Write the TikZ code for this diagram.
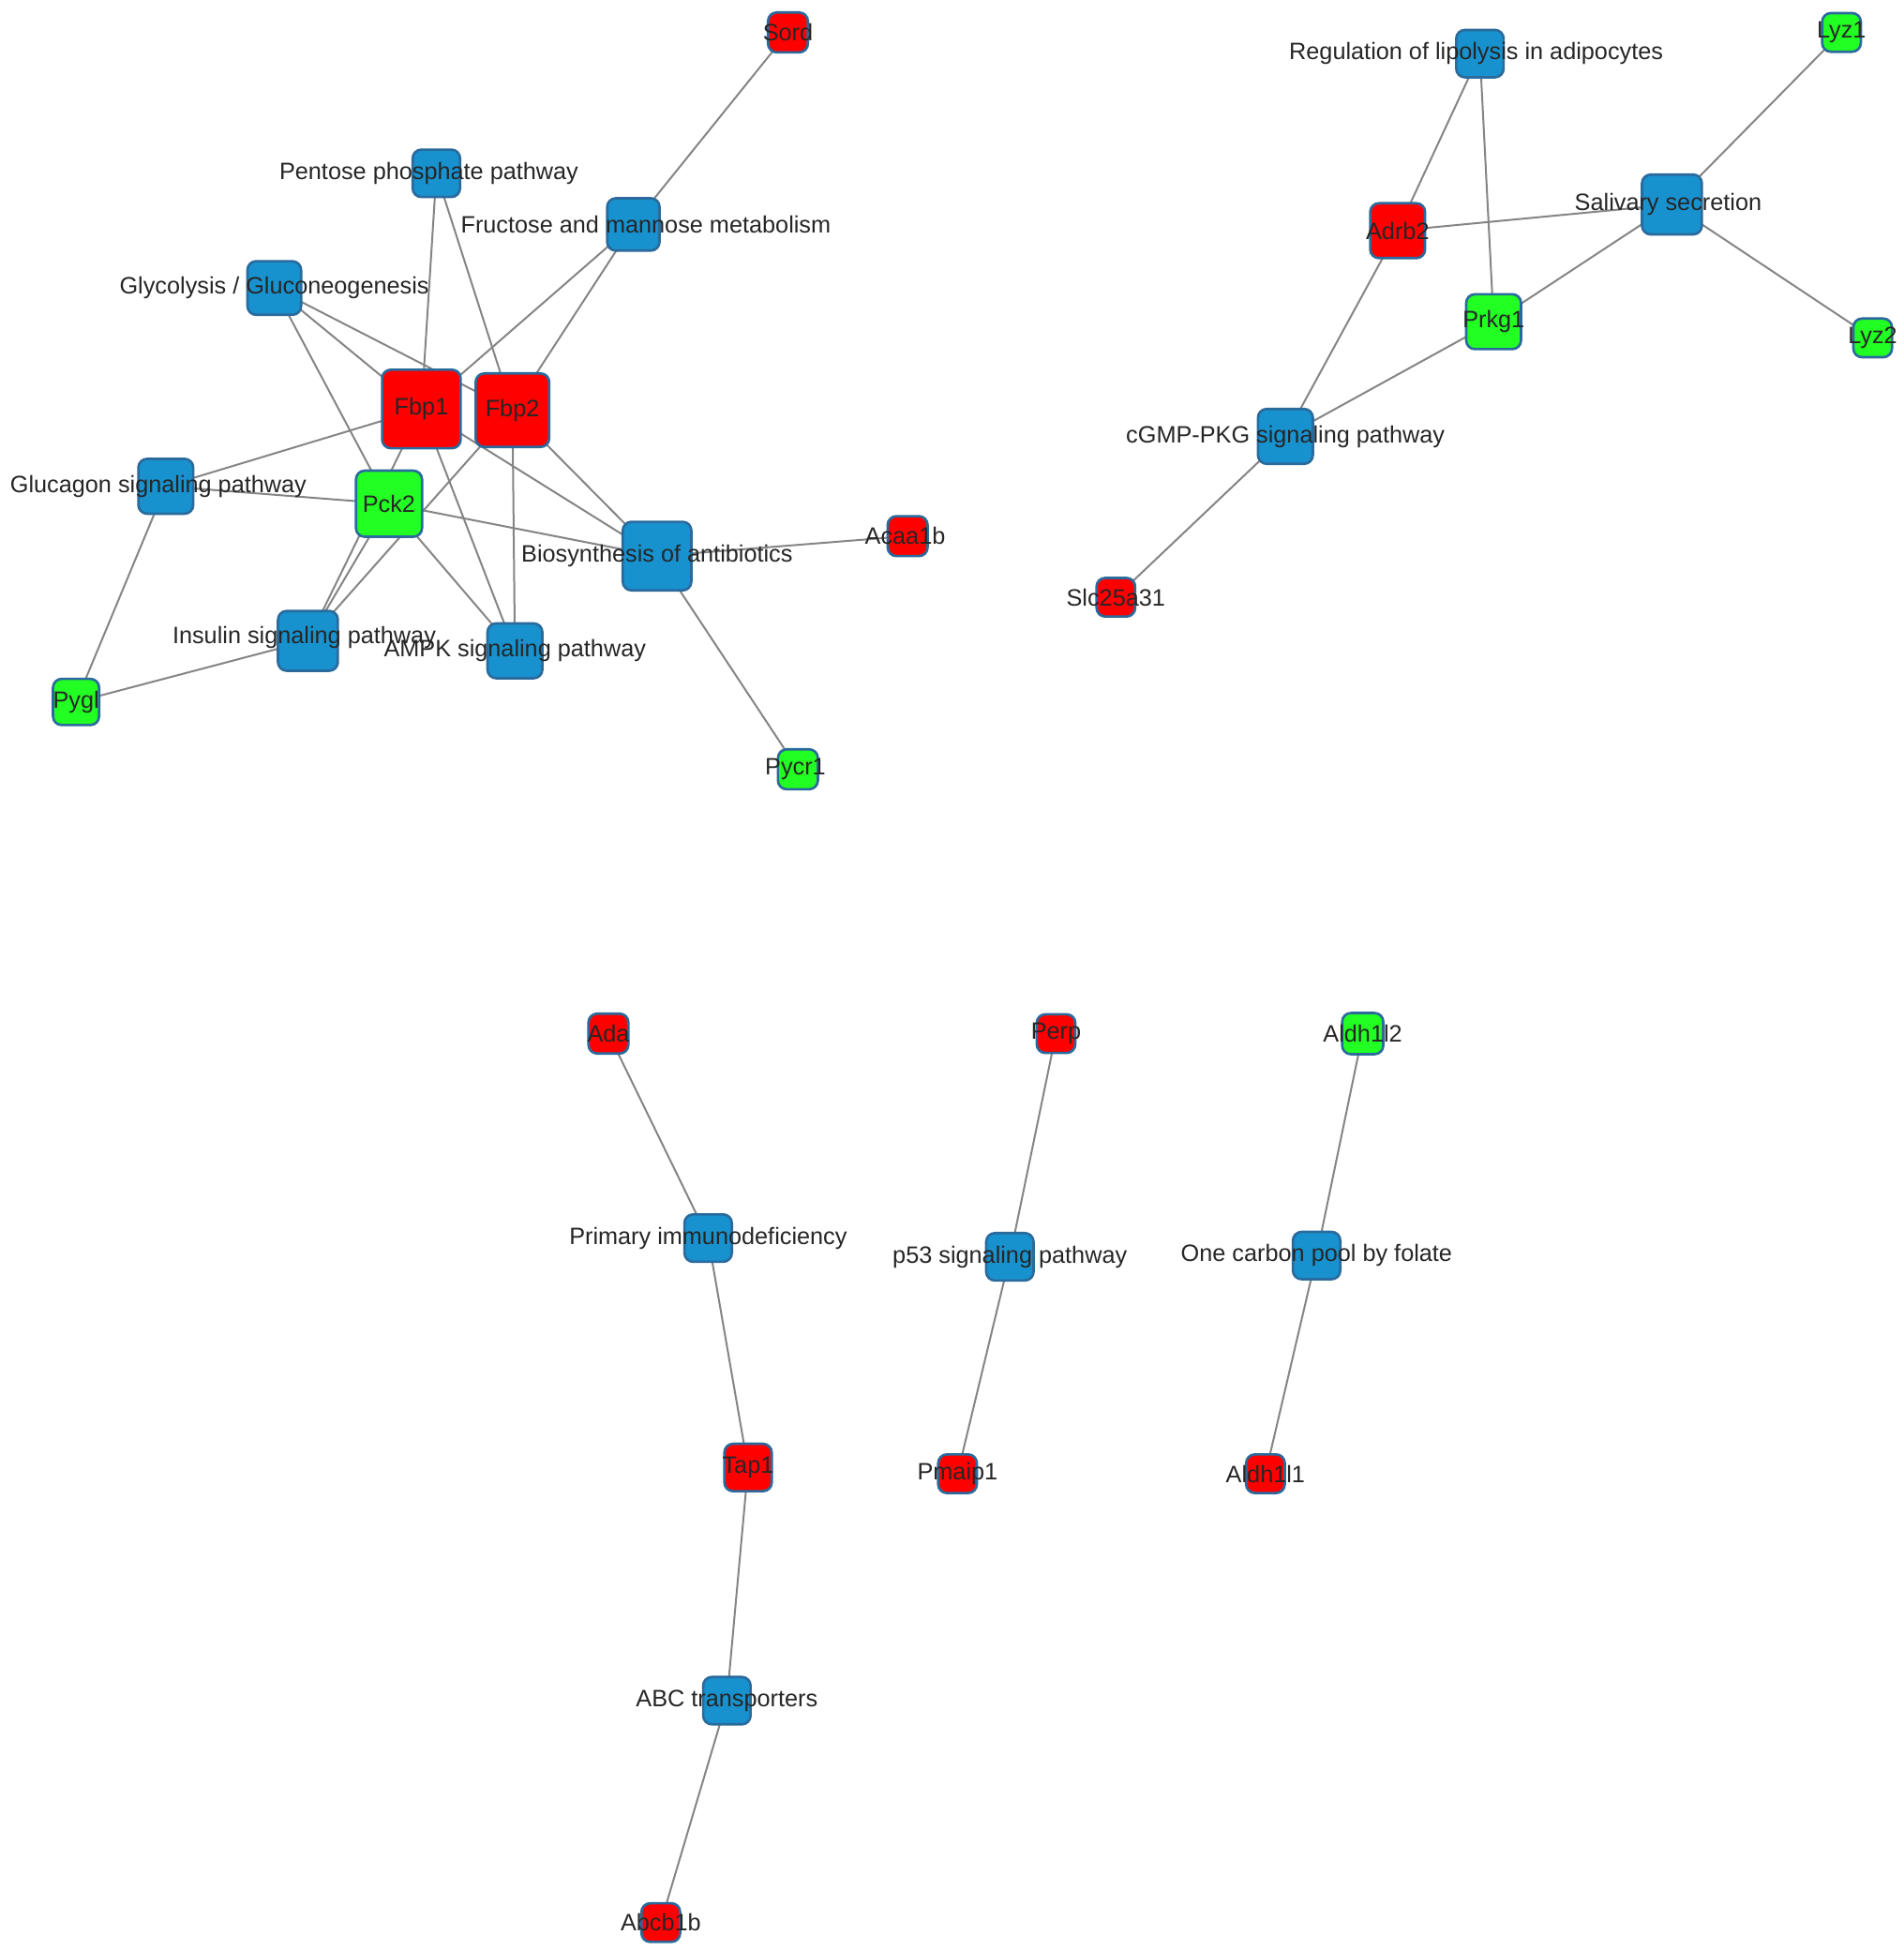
\documentclass[tikz,border=0pt]{standalone}
\usepackage{fontspec}
\setmainfont{Liberation Sans}
\usetikzlibrary{backgrounds}
\pgfdeclarelayer{bottom}
\pgfdeclarelayer{background}
\pgfsetlayers{bottom,background,main}
\definecolor{nblue}{HTML}{1792CF}
\definecolor{nred}{HTML}{FF0000}
\definecolor{ngreen}{HTML}{22FF22}
\definecolor{nborder}{HTML}{2A6A9C}
\definecolor{edgec}{HTML}{858585}
\definecolor{txt}{HTML}{262626}
\tikzset{
  box/.style={draw=nborder, line width=2pt, rounded corners=7pt, inner sep=0pt, minimum size=#1},
  pbox/.style={box=#1, fill=nblue},
  rbox/.style={box=#1, fill=nred},
  gbox/.style={box=#1, fill=ngreen},
  lbl/.style={font=\fontsize{19}{22}\selectfont, text=txt, inner sep=0pt},
  edge/.style={draw=edgec, line width=1.5pt},
}
\begin{document}
\begin{tikzpicture}[x=1pt,y=-1pt]
\begin{pgfonlayer}{bottom}
\fill[white] (0,0) rectangle (1527,1564);
\end{pgfonlayer}
\useasboundingbox (0,0) rectangle (1527,1564);
% ---------- cluster 1 ----------
\node[rbox=32, label={[lbl]center:Sord}] (sord) at (632,26) {};
\node[pbox=38, label={[lbl,xshift=-6pt]center:Pentose phosphate pathway}] (pent) at (350,139) {};
\node[pbox=42, label={[lbl,xshift=10pt]center:Fructose and mannose metabolism}] (fruc) at (508,180) {};
\node[pbox=43, label={[lbl]center:Glycolysis / Gluconeogenesis}] (glyc) at (220,231) {};
\node[rbox=63, label={[lbl]center:Fbp1}] (fbpa) at (338,328) {};
\node[rbox=59, label={[lbl]center:Fbp2}] (fbpb) at (411,329) {};
\node[pbox=44, label={[lbl,xshift=-6pt]center:Glucagon signaling pathway}] (gluc) at (133,390) {};
\node[gbox=53, label={[lbl]center:Pck2}] (pckb) at (312,404) {};
\node[pbox=55, label={[lbl]center:Biosynthesis of antibiotics}] (bios) at (527,446) {};
\node[rbox=32, label={[lbl,xshift=-2pt]center:Acaa1b}] (acaa) at (728,430) {};
\node[pbox=48, label={[lbl,xshift=-3pt,yshift=3pt]center:Insulin signaling pathway}] (insu) at (247,514) {};
\node[pbox=44, label={[lbl]center:AMPK signaling pathway}] (ampk) at (413,522) {};
\node[gbox=37, label={[lbl]center:Pygl}] (pygl) at (61,563) {};
\node[gbox=32, label={[lbl,xshift=-2pt]center:Pycr1}] (pycr) at (640,617) {};
% ---------- cluster 2 ----------
\node[pbox=38, label={[lbl,xshift=-3pt]center:Regulation of lipolysis in adipocytes}] (regl) at (1187,43) {};
\node[gbox=31, label={[lbl]center:Lyz1}] (lyza) at (1477,26) {};
\node[rbox=44, label={[lbl]center:Adrb2}] (adrb) at (1121,185) {};
\node[pbox=48, label={[lbl,xshift=-3pt]center:Salivary secretion}] (sali) at (1341,164) {};
\node[gbox=44, label={[lbl]center:Prkg1}] (prkg) at (1198,258) {};
\node[gbox=31, label={[lbl]center:Lyz2}] (lyzb) at (1502,271) {};
\node[pbox=44, label={[lbl]center:cGMP-PKG signaling pathway}] (cgmp) at (1031,350) {};
\node[rbox=31, label={[lbl]center:Slc25a31}] (slca) at (895,479) {};
% ---------- bottom clusters ----------
\node[rbox=32, label={[lbl]center:Ada}] (ada) at (488,829) {};
\node[pbox=38, label={[lbl]center:Primary immunodeficiency}] (prim) at (568,993) {};
\node[rbox=38, label={[lbl]center:Tap1}] (tapa) at (600,1177) {};
\node[pbox=38, label={[lbl]center:ABC transporters}] (abct) at (583,1364) {};
\node[rbox=31, label={[lbl]center:Abcb1b}] (abcb) at (530,1542) {};
\node[rbox=31, label={[lbl]center:Perp}] (perp) at (847,829) {};
\node[pbox=38, label={[lbl]center:p53 signaling pathway}] (psig) at (810,1008) {};
\node[rbox=31, label={[lbl]center:Pmaip1}] (pmai) at (768,1182) {};
\node[gbox=33, label={[lbl]center:Aldh1l2}] (aldb) at (1093,829) {};
\node[pbox=38, label={[lbl]center:One carbon pool by folate}] (onec) at (1056,1007) {};
\node[rbox=31, label={[lbl]center:Aldh1l1}] (alda) at (1015,1182) {};
% ---------- edges ----------
\begin{pgfonlayer}{background}
\draw[edge] (sord.center) -- (fruc.center);
\draw[edge] (pent.center) -- (fbpa.center);
\draw[edge] (pent.center) -- (fbpb.center);
\draw[edge] (fruc.center) -- (fbpa.center);
\draw[edge] (fruc.center) -- (fbpb.center);
\draw[edge] (glyc.center) -- (fbpa.center);
\draw[edge] (glyc.center) -- (fbpb.center);
\draw[edge] (glyc.center) -- (pckb.center);
\draw[edge] (fbpa.center) -- (gluc.center);
\draw[edge] (fbpa.center) -- (bios.center);
\draw[edge] (fbpa.center) -- (insu.center);
\draw[edge] (fbpa.center) -- (ampk.center);
\draw[edge] (fbpb.center) -- (bios.center);
\draw[edge] (fbpb.center) -- (ampk.center);
\draw[edge] (fbpb.center) -- (insu.center);
\draw[edge] (pckb.center) -- (gluc.center);
\draw[edge] (pckb.center) -- (bios.center);
\draw[edge] (pckb.center) -- (ampk.center);
\draw[edge] (pckb.center) -- (insu.center);
\draw[edge] (gluc.center) -- (pygl.center);
\draw[edge] (insu.center) -- (pygl.center);
\draw[edge] (bios.center) -- (acaa.center);
\draw[edge] (bios.center) -- (pycr.center);
\draw[edge] (regl.center) -- (adrb.center);
\draw[edge] (regl.center) -- (prkg.center);
\draw[edge] (adrb.center) -- (sali.center);
\draw[edge] (sali.center) -- (lyza.center);
\draw[edge] (sali.center) -- (lyzb.center);
\draw[edge] (sali.center) -- (prkg.center);
\draw[edge] (adrb.center) -- (cgmp.center);
\draw[edge] (prkg.center) -- (cgmp.center);
\draw[edge] (cgmp.center) -- (slca.center);
\draw[edge] (ada.center) -- (prim.center);
\draw[edge] (prim.center) -- (tapa.center);
\draw[edge] (tapa.center) -- (abct.center);
\draw[edge] (abct.center) -- (abcb.center);
\draw[edge] (perp.center) -- (psig.center);
\draw[edge] (psig.center) -- (pmai.center);
\draw[edge] (aldb.center) -- (onec.center);
\draw[edge] (onec.center) -- (alda.center);
\end{pgfonlayer}
\end{tikzpicture}
\end{document}
